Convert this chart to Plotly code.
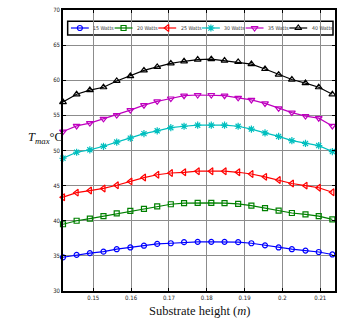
import plotly.graph_objects as go

# ---- data ----
substrate_height = [0.1420, 0.1456, 0.1491, 0.1527, 0.1562, 0.1598, 0.1634, 0.1669, 0.1705, 0.1740,
                    0.1776, 0.1812, 0.1847, 0.1883, 0.1918, 0.1954, 0.1990, 0.2025, 0.2061, 0.2096, 0.2132]

t_15w = [34.8, 35.15, 35.4, 35.6, 35.95, 36.2, 36.45, 36.7, 36.8, 36.95, 37.0,
         37.0, 37.0, 36.95, 36.8, 36.5, 36.2, 35.95, 35.75, 35.55, 35.2]
t_20w = [39.5, 40.0, 40.3, 40.65, 41.05, 41.4, 41.7, 42.05, 42.35, 42.5, 42.55,
         42.55, 42.5, 42.4, 42.15, 41.8, 41.45, 41.1, 40.9, 40.65, 40.2]
t_25w = [43.35, 44.0, 44.3, 44.6, 45.05, 45.6, 46.15, 46.55, 46.8, 46.9, 47.05,
         47.05, 47.05, 46.9, 46.65, 46.25, 45.8, 45.3, 45.0, 44.7, 44.05]
t_30w = [48.9, 49.75, 50.1, 50.6, 51.2, 51.75, 52.4, 52.8, 53.25, 53.45, 53.6,
         53.6, 53.6, 53.45, 53.05, 52.5, 52.0, 51.4, 51.0, 50.7, 49.85]
t_35w = [52.7, 53.5, 53.9, 54.5, 55.05, 55.75, 56.45, 57.0, 57.4, 57.8, 57.9,
         57.9, 57.8, 57.5, 57.2, 56.7, 56.0, 55.4, 54.9, 54.6, 53.5]
t_40w = [56.9, 58.0, 58.6, 59.0, 59.9, 60.6, 61.4, 61.9, 62.4, 62.7, 62.95,
         63.0, 62.8, 62.6, 62.3, 61.6, 60.8, 60.1, 59.6, 59.0, 58.0]

series_names = ["15 Watts", "20 Watts", "25 Watts", "30 Watts", "35 Watts", "40 Watts"]
series_values = [t_15w, t_20w, t_25w, t_30w, t_35w, t_40w]

x_ticks = [0.15, 0.16, 0.17, 0.18, 0.19, 0.2, 0.21]
y_ticks = [30, 35, 40, 45, 50, 55, 60, 65, 70]

# ---- styles ----
colors = ["#0000ff", "#008000", "#ff0000", "#00bfbf", "#bf00bf", "#000000"]
symbols = ["circle-open", "square-open", "triangle-left-open", "asterisk-open",
           "triangle-down-open", "triangle-up-open"]
sizes = [5, 5, 6, 6, 6, 6]

W, H = 340, 321
ML, MR, MT, MB = 63, 3, 10, 30
PW, PH = W - ML - MR, H - MT - MB

font_family = "Liberation Sans Narrow, DejaVu Sans Condensed, Arial"
tick_font = dict(family=font_family, size=6, color="#222")
legend_font = dict(family=font_family, size=5.2, color="#333")

fig = go.Figure()
for name, vals, c, s, sz in zip(series_names, series_values, colors, symbols, sizes):
    fig.add_trace(go.Scatter(
        x=substrate_height, y=vals, name=name, mode="lines+markers",
        line=dict(color=c, width=1.2),
        marker=dict(symbol=s, size=sz, color=c, line=dict(color=c, width=1.2)),
        cliponaxis=False, showlegend=False,
    ))

# ---- custom legend (pixel coordinates on an overlay axis) ----
entry_start0, entry_step, sample_len = 8, 44, 18
legend_y = 18
for i, (name, c, s, sz) in enumerate(zip(series_names, colors, symbols, sizes)):
    x0 = entry_start0 + i * entry_step
    fig.add_trace(go.Scatter(
        x=[x0, x0 + sample_len], y=[legend_y, legend_y], xaxis="x2", yaxis="y2",
        mode="lines", line=dict(color=c, width=1.2),
        showlegend=False, hoverinfo="skip", cliponaxis=False,
    ))
    fig.add_trace(go.Scatter(
        x=[x0 + sample_len / 2], y=[legend_y], xaxis="x2", yaxis="y2", mode="markers",
        marker=dict(symbol=s, size=sz, color=c, line=dict(color=c, width=1.2)),
        showlegend=False, hoverinfo="skip", cliponaxis=False,
    ))
    fig.add_annotation(x=x0 + sample_len + 2.5, y=legend_y, xref="x2", yref="y2", text=name,
                       showarrow=False, xanchor="left", yanchor="middle", font=legend_font)
fig.add_shape(type="rect", xref="x2", yref="y2", x0=4.7, x1=272, y0=11.3, y1=25,
              line=dict(color="#000", width=1.5), fillcolor="white", layer="below")

fig.update_layout(
    width=W, height=H, margin=dict(l=ML, r=MR, t=MT, b=MB),
    paper_bgcolor="white", plot_bgcolor="white",
    xaxis=dict(range=[0.142, 0.2139], tickvals=x_ticks, ticks="inside", ticklen=3,
               tickcolor="#000", showgrid=True, gridcolor="#8c8c8c", gridwidth=1,
               showline=True, linecolor="#000", linewidth=1.5, mirror="ticks",
               zeroline=False, tickfont=tick_font),
    yaxis=dict(range=[30, 70], tickvals=y_ticks, ticks="inside", ticklen=3,
               tickcolor="#000", showgrid=True, gridcolor="#8c8c8c", gridwidth=1,
               showline=True, linecolor="#000", linewidth=1.5, mirror="ticks",
               zeroline=False, tickfont=tick_font),
    xaxis2=dict(overlaying="x", range=[0, PW], visible=False, fixedrange=True),
    yaxis2=dict(overlaying="y", range=[PH, 0], visible=False, fixedrange=True),
    showlegend=False,
)

fig.add_annotation(text="Substrate height (<i>m</i>)", xref="paper", yref="paper",
                   x=0.5, y=-(311 - (H - MB)) / PH, showarrow=False,
                   xanchor="center", yanchor="middle",
                   font=dict(family="Liberation Serif, Times New Roman, serif", size=12.5, color="#111"))
fig.add_annotation(text="<i>T</i><sub><i>max</i></sub>°C", xref="paper", yref="paper",
                   x=(45 - ML) / PW, y=((H - MB) - 138) / PH, showarrow=False,
                   xanchor="center", yanchor="middle",
                   font=dict(family="Liberation Serif, Times New Roman, serif", size=12.5, color="#111"))

fig.write_html("out.html", config={"displayModeBar": False},
               post_script="document.body.style.margin='0px';document.body.style.overflow='hidden';")
